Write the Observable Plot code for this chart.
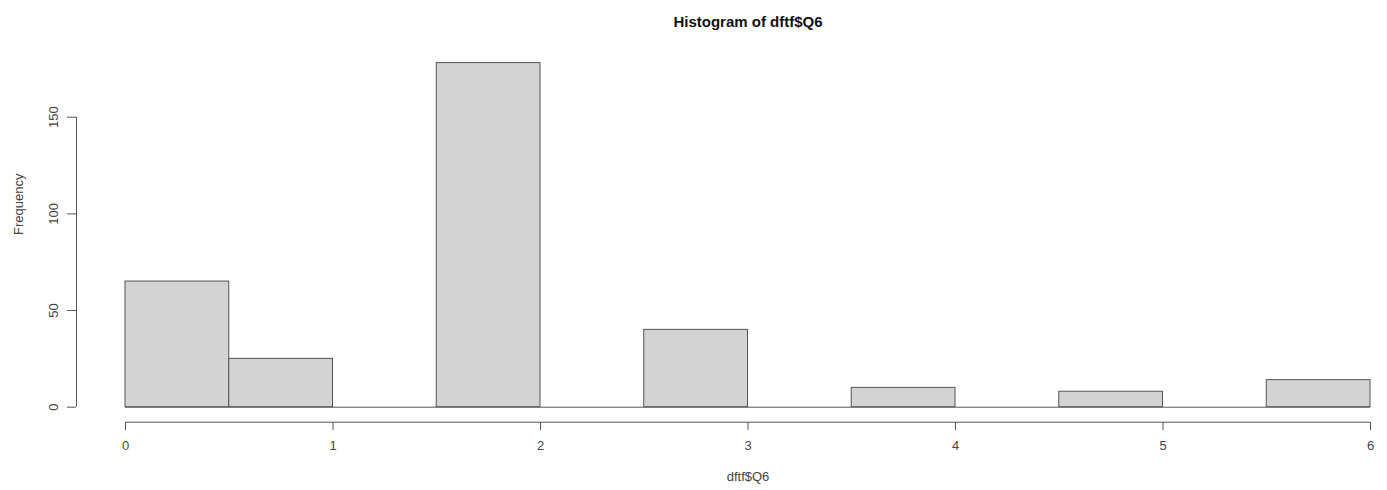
<!DOCTYPE html>
<html>
<head>
<meta charset="utf-8">
<script src="https://cdn.jsdelivr.net/npm/d3@7"></script>
<script src="https://cdn.jsdelivr.net/npm/@observablehq/plot@0.6"></script>
<style>
  html, body { margin: 0; padding: 0; background: #fff; }
  svg { font-family: "Liberation Sans", Arial, sans-serif; }
</style>
</head>
<body>
<div id="chart"></div>
<script>
// Histogram bins (break points) and counts
const binStarts = [0, 0.5, 1, 1.5, 2, 2.5, 3, 3.5, 4, 4.5, 5, 5.5];
const binEnds   = [0.5, 1, 1.5, 2, 2.5, 3, 3.5, 4, 4.5, 5, 5.5, 6];
const counts    = [65, 25, 0, 178, 0, 40, 0, 10, 0, 8, 0, 14];
const xTicks = [0, 1, 2, 3, 4, 5, 6];
const yTicks = [0, 50, 100, 150];
const titleText = "Histogram of dftf$Q6";
const xLabel = "dftf$Q6";
const yLabel = "Frequency";

const bins = binStarts.map((s, i) => ({x1: s, x2: binEnds[i], count: counts[i]}));
const nonZero = bins.filter(d => d.count > 0);

const ink = "#555";

const chart = Plot.plot({
  width: 1387,
  height: 490,
  marginLeft: 125,
  marginRight: 17,
  marginTop: 0,
  marginBottom: 83,
  style: {fontFamily: "Liberation Sans, Arial, sans-serif", fontSize: "13px", background: "#fff"},
  x: {domain: [0, 6], range: [125, 1370]},
  y: {domain: [0, 150], range: [406.7, 116.7]},
  marks: [
    // baseline (zero-height bins)
    Plot.ruleY([0], {x1: 0, x2: 6, stroke: ink, strokeWidth: 1}),
    Plot.rectY(nonZero, {x1: "x1", x2: "x2", y1: 0, y2: "count", fill: "#d3d3d3", stroke: ink, strokeWidth: 1}),
    // x axis
    Plot.ruleY([0], {x1: xTicks[0], x2: xTicks[xTicks.length - 1], dy: 15, stroke: ink}),
    Plot.axisX({ticks: xTicks, tickFormat: d => String(d), tickSize: 8, tickPadding: 10, dy: 15, stroke: ink, color: "#444", fontSize: 13, label: null}),
    // y axis
    Plot.ruleX([0], {y1: yTicks[0], y2: yTicks[yTicks.length - 1], dx: -49, stroke: ink}),
    Plot.axisY({ticks: yTicks, tickFormat: d => String(d), tickSize: 9, tickPadding: 10, tickRotate: -90, dx: -49, stroke: ink, color: "#444", fontSize: 13, label: null}),
    // title and axis labels
    Plot.text([titleText], {frameAnchor: "top", dy: 16, fontWeight: "bold", fontSize: 15, fill: "#111"}),
    Plot.text([xLabel], {frameAnchor: "bottom", dy: 73, fontSize: 13, fill: "#444"}),
    Plot.text([yLabel], {frameAnchor: "left", dx: -107, dy: 31, rotate: -90, fontSize: 13, fill: "#444"})
  ]
});
document.getElementById("chart").appendChild(chart);
</script>
</body>
</html>
